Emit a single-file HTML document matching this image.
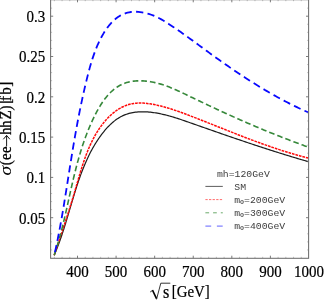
<!DOCTYPE html>
<html>
<head>
<meta charset="utf-8">
<title>plot</title>
<style>
html,body{margin:0;padding:0;background:#ffffff;}
body{width:324px;height:300px;overflow:hidden;}
svg{display:block;will-change:transform;}
text{font-family:"Liberation Serif",serif;font-size:15px;fill:#000;}
.b text{stroke:#000;stroke-width:0.2px;}
.mono text{font-family:"Liberation Mono",monospace;font-size:9.8px;fill:#3c3c3c;}
</style>
</head>
<body>
<svg width="324" height="300" viewBox="0 0 324 300">
<rect x="0" y="0" width="324" height="300" fill="#ffffff"/>
<defs><clipPath id="c"><rect x="50.6" y="-0.3" width="258.0" height="258.6"/></clipPath></defs>
<g clip-path="url(#c)" fill="none" stroke-linecap="butt" stroke-linejoin="round">
<path d="M54.20,255.20 L54.72,253.99 L55.24,252.78 L55.75,251.56 L56.25,250.33 L56.75,249.10 L57.24,247.87 L57.72,246.62 L58.20,245.37 L58.67,244.12 L59.13,242.86 L59.59,241.59 L60.04,240.33 L60.49,239.05 L60.93,237.77 L61.37,236.49 L61.80,235.20 L62.23,233.91 L62.66,232.62 L63.08,231.32 L63.50,230.01 L63.92,228.71 L64.33,227.40 L64.74,226.09 L65.14,224.77 L65.55,223.45 L65.95,222.13 L66.35,220.81 L66.75,219.49 L67.14,218.16 L67.54,216.83 L67.93,215.50 L68.33,214.17 L68.72,212.84 L69.11,211.50 L69.50,210.17 L69.90,208.83 L70.29,207.50 L70.68,206.16 L71.08,204.82 L71.47,203.48 L71.87,202.15 L72.27,200.81 L72.67,199.47 L73.07,198.14 L73.47,196.80 L73.88,195.47 L74.29,194.13 L74.70,192.80 L75.11,191.47 L75.53,190.14 L75.95,188.81 L76.38,187.49 L76.81,186.17 L77.24,184.84 L77.68,183.53 L78.12,182.21 L78.57,180.90 L79.02,179.58 L79.48,178.28 L79.94,176.97 L80.41,175.67 L80.88,174.38 L81.37,173.08 L81.85,171.79 L82.35,170.51 L82.85,169.23 L83.36,167.95 L83.87,166.68 L84.40,165.41 L84.93,164.15 L85.47,162.89 L86.02,161.64 L86.57,160.39 L87.14,159.15 L87.71,157.92 L88.29,156.69 L88.89,155.47 L89.49,154.25 L90.10,153.04 L90.72,151.84 L91.36,150.64 L92.00,149.45 L92.65,148.27 L93.32,147.10 L94.00,145.93 L94.68,144.77 L95.38,143.62 L96.10,142.48 L96.82,141.34 L97.56,140.21 L98.30,139.10 L99.07,137.99 L99.84,136.89 L100.63,135.79 L101.43,134.71 L102.25,133.64 L103.07,132.58 L103.92,131.53 L104.78,130.49 L105.65,129.47 L106.54,128.46 L107.44,127.47 L108.36,126.50 L109.29,125.55 L110.24,124.62 L111.21,123.72 L112.19,122.83 L113.19,121.98 L114.20,121.15 L115.23,120.35 L116.28,119.58 L117.35,118.84 L118.43,118.13 L119.53,117.46 L120.65,116.82 L121.79,116.22 L122.95,115.66 L124.13,115.13 L125.32,114.65 L126.53,114.21 L127.77,113.81 L129.01,113.45 L130.28,113.13 L131.56,112.84 L132.85,112.59 L134.15,112.38 L135.47,112.20 L136.80,112.06 L138.14,111.94 L139.48,111.86 L140.83,111.81 L142.19,111.79 L143.56,111.79 L144.93,111.83 L146.30,111.89 L147.67,111.97 L149.05,112.08 L150.42,112.21 L151.80,112.37 L153.17,112.54 L154.54,112.74 L155.91,112.95 L157.27,113.19 L158.63,113.44 L160.00,113.71 L161.35,113.99 L162.71,114.29 L164.07,114.61 L165.42,114.94 L166.77,115.28 L168.12,115.64 L169.46,116.01 L170.81,116.39 L172.15,116.78 L173.49,117.18 L174.83,117.59 L176.16,118.01 L177.50,118.43 L178.83,118.87 L180.16,119.30 L181.49,119.75 L182.81,120.20 L184.14,120.65 L185.46,121.11 L186.78,121.57 L188.10,122.03 L189.41,122.49 L190.73,122.95 L192.04,123.41 L193.35,123.87 L194.66,124.33 L195.96,124.79 L197.27,125.25 L198.57,125.71 L199.87,126.16 L201.17,126.62 L202.47,127.08 L203.77,127.53 L205.06,127.98 L206.35,128.44 L207.65,128.89 L208.94,129.34 L210.23,129.79 L211.52,130.24 L212.80,130.69 L214.09,131.14 L215.38,131.59 L216.66,132.03 L217.94,132.48 L219.23,132.92 L220.51,133.37 L221.79,133.81 L223.07,134.26 L224.35,134.70 L225.63,135.14 L226.90,135.58 L228.18,136.02 L229.46,136.46 L230.74,136.90 L232.01,137.33 L233.29,137.77 L234.56,138.21 L235.84,138.64 L237.12,139.07 L238.39,139.51 L239.67,139.94 L240.94,140.37 L242.22,140.80 L243.49,141.23 L244.77,141.66 L246.04,142.09 L247.32,142.52 L248.60,142.95 L249.87,143.37 L251.15,143.80 L252.43,144.22 L253.70,144.65 L254.98,145.07 L256.26,145.49 L257.54,145.91 L258.82,146.33 L260.10,146.75 L261.38,147.17 L262.67,147.59 L263.95,148.01 L265.24,148.42 L266.52,148.84 L267.81,149.25 L269.10,149.67 L270.38,150.08 L271.67,150.49 L272.97,150.90 L274.26,151.31 L275.55,151.72 L276.85,152.13 L278.15,152.54 L279.44,152.95 L280.74,153.35 L282.05,153.76 L283.35,154.17 L284.65,154.57 L285.96,154.97 L287.27,155.38 L288.58,155.78 L289.89,156.18 L291.21,156.58 L292.52,156.98 L293.84,157.37 L295.16,157.77 L296.49,158.17 L297.81,158.56 L299.14,158.96 L300.47,159.35 L301.80,159.75 L303.14,160.14 L304.47,160.53 L305.81,160.92 L307.16,161.31 L308.50,161.70" stroke="#1c1c1c" stroke-width="1.2"/>
<path d="M54.20,255.20 L54.65,253.83 L55.11,252.47 L55.56,251.12 L56.02,249.76 L56.47,248.41 L56.92,247.06 L57.37,245.72 L57.82,244.37 L58.27,243.03 L58.72,241.70 L59.16,240.36 L59.61,239.03 L60.05,237.70 L60.50,236.37 L60.94,235.04 L61.38,233.72 L61.82,232.39 L62.26,231.07 L62.70,229.75 L63.14,228.43 L63.58,227.11 L64.01,225.79 L64.45,224.47 L64.88,223.16 L65.31,221.84 L65.74,220.52 L66.17,219.20 L66.60,217.88 L67.03,216.57 L67.45,215.25 L67.87,213.93 L68.30,212.61 L68.72,211.29 L69.14,209.96 L69.55,208.64 L69.97,207.31 L70.38,205.99 L70.80,204.66 L71.21,203.33 L71.62,201.99 L72.03,200.66 L72.43,199.32 L72.84,197.98 L73.24,196.64 L73.64,195.29 L74.04,193.94 L74.44,192.59 L74.83,191.23 L75.23,189.88 L75.62,188.52 L76.01,187.15 L76.41,185.79 L76.80,184.42 L77.19,183.05 L77.59,181.68 L77.98,180.31 L78.38,178.94 L78.78,177.57 L79.18,176.20 L79.59,174.83 L80.00,173.46 L80.41,172.09 L80.82,170.72 L81.25,169.36 L81.67,168.00 L82.10,166.63 L82.54,165.28 L82.98,163.92 L83.43,162.57 L83.89,161.22 L84.35,159.87 L84.82,158.53 L85.30,157.19 L85.79,155.86 L86.29,154.53 L86.80,153.21 L87.31,151.90 L87.84,150.59 L88.38,149.28 L88.92,147.98 L89.48,146.69 L90.05,145.41 L90.63,144.13 L91.23,142.86 L91.84,141.60 L92.46,140.35 L93.09,139.11 L93.74,137.87 L94.40,136.65 L95.08,135.43 L95.78,134.23 L96.48,133.03 L97.21,131.85 L97.95,130.67 L98.71,129.51 L99.48,128.36 L100.28,127.22 L101.09,126.09 L101.92,124.97 L102.76,123.87 L103.63,122.78 L104.52,121.71 L105.42,120.65 L106.34,119.61 L107.28,118.58 L108.25,117.58 L109.22,116.60 L110.22,115.64 L111.24,114.71 L112.27,113.80 L113.32,112.92 L114.39,112.07 L115.48,111.25 L116.59,110.46 L117.71,109.70 L118.85,108.98 L120.01,108.29 L121.19,107.64 L122.38,107.02 L123.59,106.45 L124.81,105.92 L126.05,105.43 L127.30,104.98 L128.56,104.58 L129.84,104.22 L131.12,103.91 L132.42,103.65 L133.73,103.44 L135.05,103.28 L136.38,103.15 L137.71,103.07 L139.06,103.02 L140.40,103.02 L141.76,103.05 L143.12,103.11 L144.49,103.20 L145.86,103.32 L147.23,103.47 L148.60,103.65 L149.98,103.85 L151.36,104.06 L152.74,104.30 L154.11,104.56 L155.49,104.83 L156.87,105.13 L158.24,105.43 L159.62,105.76 L160.99,106.09 L162.37,106.45 L163.74,106.81 L165.11,107.19 L166.48,107.58 L167.85,107.99 L169.22,108.40 L170.59,108.83 L171.96,109.26 L173.32,109.71 L174.69,110.17 L176.05,110.63 L177.41,111.10 L178.77,111.58 L180.12,112.06 L181.48,112.55 L182.83,113.05 L184.19,113.54 L185.54,114.05 L186.88,114.56 L188.23,115.07 L189.57,115.58 L190.91,116.09 L192.25,116.61 L193.58,117.12 L194.92,117.64 L196.25,118.16 L197.58,118.67 L198.90,119.19 L200.23,119.71 L201.55,120.23 L202.87,120.75 L204.19,121.27 L205.51,121.79 L206.82,122.31 L208.14,122.83 L209.45,123.35 L210.76,123.87 L212.07,124.39 L213.38,124.91 L214.68,125.43 L215.99,125.95 L217.29,126.47 L218.60,126.99 L219.90,127.50 L221.20,128.02 L222.50,128.54 L223.80,129.06 L225.10,129.57 L226.40,130.09 L227.69,130.60 L228.99,131.12 L230.29,131.63 L231.58,132.14 L232.88,132.65 L234.17,133.16 L235.47,133.67 L236.76,134.18 L238.06,134.68 L239.35,135.19 L240.65,135.69 L241.95,136.19 L243.24,136.69 L244.54,137.19 L245.83,137.69 L247.13,138.19 L248.43,138.68 L249.73,139.17 L251.02,139.66 L252.32,140.15 L253.62,140.64 L254.93,141.12 L256.23,141.60 L257.53,142.08 L258.83,142.56 L260.14,143.03 L261.45,143.51 L262.75,143.98 L264.06,144.45 L265.37,144.91 L266.69,145.37 L268.00,145.83 L269.32,146.29 L270.63,146.75 L271.95,147.20 L273.27,147.65 L274.60,148.09 L275.92,148.54 L277.25,148.98 L278.58,149.41 L279.91,149.85 L281.24,150.28 L282.58,150.70 L283.92,151.13 L285.26,151.55 L286.60,151.96 L287.95,152.38 L289.29,152.79 L290.65,153.19 L292.00,153.59 L293.36,153.99 L294.72,154.39 L296.08,154.78 L297.45,155.16 L298.82,155.54 L300.19,155.92 L301.57,156.30 L302.95,156.67 L304.33,157.03 L305.72,157.39 L307.11,157.75 L308.50,158.10" stroke="#ff0a0a" stroke-width="1.5" stroke-dasharray="2.7 0.9"/>
<path d="M54.20,255.20 L54.68,253.75 L55.16,252.31 L55.63,250.86 L56.09,249.41 L56.54,247.96 L56.98,246.51 L57.42,245.06 L57.85,243.61 L58.28,242.16 L58.69,240.71 L59.10,239.26 L59.51,237.81 L59.91,236.35 L60.30,234.90 L60.69,233.44 L61.07,231.99 L61.45,230.54 L61.82,229.08 L62.19,227.63 L62.55,226.17 L62.91,224.71 L63.27,223.26 L63.62,221.80 L63.97,220.35 L64.32,218.89 L64.66,217.43 L65.00,215.98 L65.33,214.52 L65.67,213.06 L66.00,211.61 L66.33,210.15 L66.66,208.70 L66.99,207.24 L67.31,205.78 L67.64,204.33 L67.96,202.87 L68.28,201.42 L68.61,199.96 L68.93,198.51 L69.25,197.05 L69.57,195.60 L69.90,194.14 L70.22,192.69 L70.54,191.24 L70.87,189.78 L71.20,188.33 L71.53,186.88 L71.86,185.43 L72.19,183.98 L72.52,182.53 L72.86,181.08 L73.20,179.63 L73.54,178.18 L73.89,176.73 L74.24,175.29 L74.59,173.84 L74.95,172.39 L75.31,170.95 L75.67,169.51 L76.04,168.06 L76.41,166.62 L76.79,165.18 L77.17,163.74 L77.56,162.30 L77.96,160.86 L78.36,159.42 L78.76,157.99 L79.17,156.55 L79.59,155.12 L80.02,153.69 L80.45,152.25 L80.89,150.82 L81.33,149.39 L81.79,147.97 L82.25,146.54 L82.72,145.11 L83.19,143.69 L83.68,142.27 L84.17,140.85 L84.68,139.43 L85.19,138.01 L85.71,136.59 L86.24,135.17 L86.78,133.76 L87.33,132.35 L87.89,130.93 L88.46,129.53 L89.04,128.12 L89.63,126.71 L90.24,125.31 L90.85,123.90 L91.47,122.50 L92.11,121.10 L92.76,119.70 L93.42,118.31 L94.09,116.92 L94.78,115.53 L95.48,114.15 L96.19,112.77 L96.92,111.40 L97.67,110.05 L98.42,108.70 L99.20,107.37 L99.99,106.06 L100.80,104.76 L101.63,103.48 L102.47,102.22 L103.33,100.98 L104.21,99.77 L105.11,98.58 L106.04,97.41 L106.98,96.27 L107.94,95.16 L108.92,94.08 L109.93,93.04 L110.96,92.02 L112.01,91.04 L113.09,90.10 L114.19,89.20 L115.31,88.34 L116.46,87.51 L117.64,86.73 L118.84,86.00 L120.06,85.31 L121.32,84.67 L122.60,84.07 L123.91,83.53 L125.25,83.04 L126.62,82.60 L128.01,82.22 L129.43,81.88 L130.87,81.59 L132.33,81.35 L133.80,81.16 L135.29,81.01 L136.79,80.91 L138.30,80.85 L139.82,80.83 L141.35,80.84 L142.88,80.90 L144.41,81.00 L145.93,81.13 L147.46,81.29 L148.98,81.49 L150.48,81.72 L151.98,81.99 L153.47,82.28 L154.96,82.60 L156.43,82.95 L157.89,83.32 L159.35,83.72 L160.80,84.14 L162.24,84.59 L163.67,85.05 L165.10,85.54 L166.52,86.05 L167.93,86.57 L169.34,87.12 L170.75,87.67 L172.14,88.25 L173.54,88.83 L174.93,89.43 L176.31,90.04 L177.69,90.66 L179.07,91.29 L180.45,91.93 L181.82,92.57 L183.19,93.22 L184.56,93.87 L185.92,94.53 L187.29,95.19 L188.65,95.85 L190.01,96.51 L191.38,97.17 L192.74,97.83 L194.10,98.48 L195.46,99.14 L196.82,99.79 L198.18,100.44 L199.54,101.09 L200.90,101.74 L202.26,102.39 L203.62,103.03 L204.98,103.68 L206.34,104.32 L207.70,104.96 L209.06,105.61 L210.42,106.24 L211.78,106.88 L213.14,107.52 L214.49,108.15 L215.85,108.78 L217.21,109.42 L218.57,110.05 L219.93,110.67 L221.29,111.30 L222.65,111.93 L224.01,112.55 L225.37,113.17 L226.73,113.79 L228.09,114.41 L229.45,115.03 L230.82,115.64 L232.18,116.26 L233.54,116.87 L234.90,117.48 L236.27,118.09 L237.63,118.69 L239.00,119.30 L240.36,119.90 L241.73,120.51 L243.09,121.11 L244.46,121.70 L245.83,122.30 L247.19,122.90 L248.56,123.49 L249.93,124.08 L251.30,124.67 L252.68,125.26 L254.05,125.84 L255.42,126.43 L256.79,127.01 L258.17,127.59 L259.54,128.17 L260.92,128.74 L262.30,129.32 L263.68,129.89 L265.06,130.46 L266.44,131.03 L267.82,131.60 L269.20,132.16 L270.59,132.73 L271.97,133.29 L273.36,133.85 L274.75,134.40 L276.14,134.96 L277.53,135.51 L278.92,136.06 L280.31,136.61 L281.71,137.16 L283.10,137.70 L284.50,138.25 L285.90,138.79 L287.30,139.33 L288.70,139.86 L290.10,140.40 L291.51,140.93 L292.91,141.46 L294.32,141.99 L295.73,142.52 L297.14,143.04 L298.56,143.56 L299.97,144.08 L301.39,144.60 L302.81,145.11 L304.23,145.63 L305.65,146.14 L307.07,146.64 L308.50,147.15" stroke="#36883a" stroke-width="1.6" stroke-dasharray="5.67 2.985"/>
<path d="M54.20,255.40 L54.60,253.66 L54.99,251.91 L55.38,250.16 L55.77,248.41 L56.15,246.65 L56.52,244.88 L56.89,243.11 L57.26,241.34 L57.62,239.57 L57.98,237.79 L58.33,236.01 L58.68,234.22 L59.02,232.43 L59.36,230.64 L59.70,228.85 L60.04,227.05 L60.37,225.25 L60.70,223.45 L61.02,221.65 L61.34,219.84 L61.66,218.04 L61.98,216.23 L62.29,214.42 L62.60,212.61 L62.91,210.80 L63.21,208.99 L63.52,207.17 L63.82,205.36 L64.12,203.55 L64.41,201.73 L64.71,199.92 L65.00,198.10 L65.30,196.29 L65.59,194.48 L65.88,192.66 L66.16,190.85 L66.45,189.04 L66.74,187.23 L67.02,185.42 L67.31,183.61 L67.59,181.81 L67.87,180.00 L68.16,178.20 L68.44,176.40 L68.72,174.60 L69.01,172.81 L69.29,171.02 L69.57,169.23 L69.85,167.44 L70.14,165.65 L70.42,163.87 L70.70,162.09 L70.99,160.31 L71.28,158.54 L71.56,156.76 L71.85,154.99 L72.14,153.22 L72.43,151.45 L72.72,149.69 L73.02,147.92 L73.31,146.16 L73.61,144.39 L73.91,142.63 L74.21,140.87 L74.51,139.11 L74.82,137.35 L75.12,135.59 L75.43,133.83 L75.75,132.07 L76.06,130.32 L76.38,128.56 L76.70,126.80 L77.02,125.04 L77.35,123.28 L77.68,121.52 L78.02,119.76 L78.35,118.00 L78.69,116.24 L79.04,114.47 L79.39,112.71 L79.74,110.94 L80.10,109.17 L80.46,107.40 L80.82,105.63 L81.19,103.86 L81.57,102.09 L81.94,100.31 L82.33,98.53 L82.72,96.75 L83.11,94.97 L83.51,93.18 L83.91,91.39 L84.32,89.60 L84.73,87.81 L85.15,86.01 L85.58,84.21 L86.01,82.40 L86.45,80.60 L86.89,78.78 L87.34,76.97 L87.80,75.15 L88.26,73.34 L88.74,71.52 L89.23,69.71 L89.72,67.89 L90.23,66.08 L90.76,64.28 L91.29,62.47 L91.84,60.68 L92.41,58.89 L93.00,57.11 L93.60,55.34 L94.22,53.58 L94.86,51.83 L95.52,50.10 L96.20,48.37 L96.90,46.66 L97.63,44.97 L98.38,43.29 L99.15,41.63 L99.95,39.98 L100.78,38.36 L101.63,36.76 L102.51,35.17 L103.43,33.61 L104.37,32.07 L105.34,30.56 L106.35,29.08 L107.38,27.64 L108.46,26.23 L109.56,24.86 L110.70,23.54 L111.88,22.27 L113.10,21.05 L114.35,19.89 L115.65,18.79 L116.98,17.75 L118.35,16.79 L119.77,15.89 L121.23,15.08 L122.73,14.34 L124.28,13.69 L125.87,13.13 L127.51,12.66 L129.20,12.28 L130.93,12.01 L132.71,11.83 L134.53,11.76 L136.38,11.77 L138.25,11.88 L140.13,12.06 L142.02,12.33 L143.90,12.68 L145.77,13.09 L147.63,13.58 L149.45,14.13 L151.24,14.73 L152.99,15.40 L154.71,16.11 L156.40,16.87 L158.06,17.68 L159.69,18.52 L161.30,19.40 L162.88,20.31 L164.45,21.24 L166.01,22.20 L167.55,23.18 L169.08,24.17 L170.60,25.17 L172.12,26.17 L173.63,27.19 L175.13,28.21 L176.64,29.23 L178.14,30.26 L179.63,31.30 L181.12,32.34 L182.61,33.39 L184.09,34.44 L185.57,35.50 L187.05,36.56 L188.52,37.62 L189.99,38.68 L191.46,39.75 L192.93,40.82 L194.40,41.89 L195.87,42.96 L197.33,44.04 L198.80,45.11 L200.26,46.19 L201.73,47.26 L203.19,48.34 L204.65,49.41 L206.12,50.49 L207.59,51.56 L209.05,52.63 L210.52,53.70 L211.99,54.77 L213.47,55.83 L214.94,56.89 L216.42,57.95 L217.90,59.01 L219.38,60.07 L220.86,61.12 L222.34,62.17 L223.83,63.21 L225.32,64.26 L226.81,65.30 L228.30,66.33 L229.80,67.37 L231.29,68.40 L232.79,69.42 L234.30,70.45 L235.80,71.47 L237.31,72.48 L238.82,73.49 L240.33,74.50 L241.84,75.50 L243.36,76.50 L244.88,77.49 L246.41,78.48 L247.93,79.47 L249.46,80.45 L250.99,81.42 L252.53,82.40 L254.06,83.36 L255.61,84.32 L257.15,85.28 L258.70,86.23 L260.25,87.17 L261.80,88.11 L263.36,89.04 L264.92,89.97 L266.48,90.89 L268.05,91.81 L269.62,92.72 L271.20,93.63 L272.77,94.52 L274.36,95.41 L275.94,96.30 L277.53,97.18 L279.12,98.05 L280.72,98.92 L282.32,99.77 L283.93,100.63 L285.53,101.47 L287.15,102.31 L288.76,103.14 L290.38,103.96 L292.01,104.78 L293.64,105.58 L295.27,106.38 L296.91,107.18 L298.55,107.96 L300.20,108.74 L301.85,109.51 L303.51,110.27 L305.17,111.02 L306.83,111.76 L308.50,112.50" stroke="#0808ff" stroke-width="1.8" stroke-dasharray="7.25 4.32" stroke-dashoffset="8.3"/>
</g>
<g stroke="#9a9a9a" stroke-width="0.6" fill="none">
<line x1="54.35" y1="258.30" x2="54.35" y2="256.80"/>
<line x1="54.35" y1="-0.30" x2="54.35" y2="1.20"/>
<line x1="62.07" y1="258.30" x2="62.07" y2="256.80"/>
<line x1="62.07" y1="-0.30" x2="62.07" y2="1.20"/>
<line x1="69.78" y1="258.30" x2="69.78" y2="256.80"/>
<line x1="69.78" y1="-0.30" x2="69.78" y2="1.20"/>
<line x1="77.50" y1="258.30" x2="77.50" y2="255.70" stroke="#5a5a5a" stroke-width="0.8"/>
<line x1="77.50" y1="-0.30" x2="77.50" y2="2.30" stroke="#5a5a5a" stroke-width="0.8"/>
<line x1="85.22" y1="258.30" x2="85.22" y2="256.80"/>
<line x1="85.22" y1="-0.30" x2="85.22" y2="1.20"/>
<line x1="92.93" y1="258.30" x2="92.93" y2="256.80"/>
<line x1="92.93" y1="-0.30" x2="92.93" y2="1.20"/>
<line x1="100.65" y1="258.30" x2="100.65" y2="256.80"/>
<line x1="100.65" y1="-0.30" x2="100.65" y2="1.20"/>
<line x1="108.36" y1="258.30" x2="108.36" y2="256.80"/>
<line x1="108.36" y1="-0.30" x2="108.36" y2="1.20"/>
<line x1="116.08" y1="258.30" x2="116.08" y2="255.70" stroke="#5a5a5a" stroke-width="0.8"/>
<line x1="116.08" y1="-0.30" x2="116.08" y2="2.30" stroke="#5a5a5a" stroke-width="0.8"/>
<line x1="123.80" y1="258.30" x2="123.80" y2="256.80"/>
<line x1="123.80" y1="-0.30" x2="123.80" y2="1.20"/>
<line x1="131.51" y1="258.30" x2="131.51" y2="256.80"/>
<line x1="131.51" y1="-0.30" x2="131.51" y2="1.20"/>
<line x1="139.23" y1="258.30" x2="139.23" y2="256.80"/>
<line x1="139.23" y1="-0.30" x2="139.23" y2="1.20"/>
<line x1="146.94" y1="258.30" x2="146.94" y2="256.80"/>
<line x1="146.94" y1="-0.30" x2="146.94" y2="1.20"/>
<line x1="154.66" y1="258.30" x2="154.66" y2="255.70" stroke="#5a5a5a" stroke-width="0.8"/>
<line x1="154.66" y1="-0.30" x2="154.66" y2="2.30" stroke="#5a5a5a" stroke-width="0.8"/>
<line x1="162.38" y1="258.30" x2="162.38" y2="256.80"/>
<line x1="162.38" y1="-0.30" x2="162.38" y2="1.20"/>
<line x1="170.09" y1="258.30" x2="170.09" y2="256.80"/>
<line x1="170.09" y1="-0.30" x2="170.09" y2="1.20"/>
<line x1="177.81" y1="258.30" x2="177.81" y2="256.80"/>
<line x1="177.81" y1="-0.30" x2="177.81" y2="1.20"/>
<line x1="185.52" y1="258.30" x2="185.52" y2="256.80"/>
<line x1="185.52" y1="-0.30" x2="185.52" y2="1.20"/>
<line x1="193.24" y1="258.30" x2="193.24" y2="255.70" stroke="#5a5a5a" stroke-width="0.8"/>
<line x1="193.24" y1="-0.30" x2="193.24" y2="2.30" stroke="#5a5a5a" stroke-width="0.8"/>
<line x1="200.96" y1="258.30" x2="200.96" y2="256.80"/>
<line x1="200.96" y1="-0.30" x2="200.96" y2="1.20"/>
<line x1="208.67" y1="258.30" x2="208.67" y2="256.80"/>
<line x1="208.67" y1="-0.30" x2="208.67" y2="1.20"/>
<line x1="216.39" y1="258.30" x2="216.39" y2="256.80"/>
<line x1="216.39" y1="-0.30" x2="216.39" y2="1.20"/>
<line x1="224.10" y1="258.30" x2="224.10" y2="256.80"/>
<line x1="224.10" y1="-0.30" x2="224.10" y2="1.20"/>
<line x1="231.82" y1="258.30" x2="231.82" y2="255.70" stroke="#5a5a5a" stroke-width="0.8"/>
<line x1="231.82" y1="-0.30" x2="231.82" y2="2.30" stroke="#5a5a5a" stroke-width="0.8"/>
<line x1="239.54" y1="258.30" x2="239.54" y2="256.80"/>
<line x1="239.54" y1="-0.30" x2="239.54" y2="1.20"/>
<line x1="247.25" y1="258.30" x2="247.25" y2="256.80"/>
<line x1="247.25" y1="-0.30" x2="247.25" y2="1.20"/>
<line x1="254.97" y1="258.30" x2="254.97" y2="256.80"/>
<line x1="254.97" y1="-0.30" x2="254.97" y2="1.20"/>
<line x1="262.68" y1="258.30" x2="262.68" y2="256.80"/>
<line x1="262.68" y1="-0.30" x2="262.68" y2="1.20"/>
<line x1="270.40" y1="258.30" x2="270.40" y2="255.70" stroke="#5a5a5a" stroke-width="0.8"/>
<line x1="270.40" y1="-0.30" x2="270.40" y2="2.30" stroke="#5a5a5a" stroke-width="0.8"/>
<line x1="278.12" y1="258.30" x2="278.12" y2="256.80"/>
<line x1="278.12" y1="-0.30" x2="278.12" y2="1.20"/>
<line x1="285.83" y1="258.30" x2="285.83" y2="256.80"/>
<line x1="285.83" y1="-0.30" x2="285.83" y2="1.20"/>
<line x1="293.55" y1="258.30" x2="293.55" y2="256.80"/>
<line x1="293.55" y1="-0.30" x2="293.55" y2="1.20"/>
<line x1="301.26" y1="258.30" x2="301.26" y2="256.80"/>
<line x1="301.26" y1="-0.30" x2="301.26" y2="1.20"/>
<line x1="50.60" y1="249.94" x2="52.10" y2="249.94"/>
<line x1="308.60" y1="249.94" x2="307.10" y2="249.94"/>
<line x1="50.60" y1="241.88" x2="52.10" y2="241.88"/>
<line x1="308.60" y1="241.88" x2="307.10" y2="241.88"/>
<line x1="50.60" y1="233.82" x2="52.10" y2="233.82"/>
<line x1="308.60" y1="233.82" x2="307.10" y2="233.82"/>
<line x1="50.60" y1="225.76" x2="52.10" y2="225.76"/>
<line x1="308.60" y1="225.76" x2="307.10" y2="225.76"/>
<line x1="50.60" y1="217.70" x2="53.20" y2="217.70" stroke="#5a5a5a" stroke-width="0.8"/>
<line x1="308.60" y1="217.70" x2="306.00" y2="217.70" stroke="#5a5a5a" stroke-width="0.8"/>
<line x1="50.60" y1="209.64" x2="52.10" y2="209.64"/>
<line x1="308.60" y1="209.64" x2="307.10" y2="209.64"/>
<line x1="50.60" y1="201.58" x2="52.10" y2="201.58"/>
<line x1="308.60" y1="201.58" x2="307.10" y2="201.58"/>
<line x1="50.60" y1="193.52" x2="52.10" y2="193.52"/>
<line x1="308.60" y1="193.52" x2="307.10" y2="193.52"/>
<line x1="50.60" y1="185.46" x2="52.10" y2="185.46"/>
<line x1="308.60" y1="185.46" x2="307.10" y2="185.46"/>
<line x1="50.60" y1="177.40" x2="53.20" y2="177.40" stroke="#5a5a5a" stroke-width="0.8"/>
<line x1="308.60" y1="177.40" x2="306.00" y2="177.40" stroke="#5a5a5a" stroke-width="0.8"/>
<line x1="50.60" y1="169.34" x2="52.10" y2="169.34"/>
<line x1="308.60" y1="169.34" x2="307.10" y2="169.34"/>
<line x1="50.60" y1="161.28" x2="52.10" y2="161.28"/>
<line x1="308.60" y1="161.28" x2="307.10" y2="161.28"/>
<line x1="50.60" y1="153.22" x2="52.10" y2="153.22"/>
<line x1="308.60" y1="153.22" x2="307.10" y2="153.22"/>
<line x1="50.60" y1="145.16" x2="52.10" y2="145.16"/>
<line x1="308.60" y1="145.16" x2="307.10" y2="145.16"/>
<line x1="50.60" y1="137.10" x2="53.20" y2="137.10" stroke="#5a5a5a" stroke-width="0.8"/>
<line x1="308.60" y1="137.10" x2="306.00" y2="137.10" stroke="#5a5a5a" stroke-width="0.8"/>
<line x1="50.60" y1="129.04" x2="52.10" y2="129.04"/>
<line x1="308.60" y1="129.04" x2="307.10" y2="129.04"/>
<line x1="50.60" y1="120.98" x2="52.10" y2="120.98"/>
<line x1="308.60" y1="120.98" x2="307.10" y2="120.98"/>
<line x1="50.60" y1="112.92" x2="52.10" y2="112.92"/>
<line x1="308.60" y1="112.92" x2="307.10" y2="112.92"/>
<line x1="50.60" y1="104.86" x2="52.10" y2="104.86"/>
<line x1="308.60" y1="104.86" x2="307.10" y2="104.86"/>
<line x1="50.60" y1="96.80" x2="53.20" y2="96.80" stroke="#5a5a5a" stroke-width="0.8"/>
<line x1="308.60" y1="96.80" x2="306.00" y2="96.80" stroke="#5a5a5a" stroke-width="0.8"/>
<line x1="50.60" y1="88.74" x2="52.10" y2="88.74"/>
<line x1="308.60" y1="88.74" x2="307.10" y2="88.74"/>
<line x1="50.60" y1="80.68" x2="52.10" y2="80.68"/>
<line x1="308.60" y1="80.68" x2="307.10" y2="80.68"/>
<line x1="50.60" y1="72.62" x2="52.10" y2="72.62"/>
<line x1="308.60" y1="72.62" x2="307.10" y2="72.62"/>
<line x1="50.60" y1="64.56" x2="52.10" y2="64.56"/>
<line x1="308.60" y1="64.56" x2="307.10" y2="64.56"/>
<line x1="50.60" y1="56.50" x2="53.20" y2="56.50" stroke="#5a5a5a" stroke-width="0.8"/>
<line x1="308.60" y1="56.50" x2="306.00" y2="56.50" stroke="#5a5a5a" stroke-width="0.8"/>
<line x1="50.60" y1="48.44" x2="52.10" y2="48.44"/>
<line x1="308.60" y1="48.44" x2="307.10" y2="48.44"/>
<line x1="50.60" y1="40.38" x2="52.10" y2="40.38"/>
<line x1="308.60" y1="40.38" x2="307.10" y2="40.38"/>
<line x1="50.60" y1="32.32" x2="52.10" y2="32.32"/>
<line x1="308.60" y1="32.32" x2="307.10" y2="32.32"/>
<line x1="50.60" y1="24.26" x2="52.10" y2="24.26"/>
<line x1="308.60" y1="24.26" x2="307.10" y2="24.26"/>
<line x1="50.60" y1="16.20" x2="53.20" y2="16.20" stroke="#5a5a5a" stroke-width="0.8"/>
<line x1="308.60" y1="16.20" x2="306.00" y2="16.20" stroke="#5a5a5a" stroke-width="0.8"/>
<line x1="50.60" y1="8.14" x2="52.10" y2="8.14"/>
<line x1="308.60" y1="8.14" x2="307.10" y2="8.14"/>
</g>
<rect x="50.6" y="-0.3" width="258.0" height="258.6" stroke="#6e6e6e" stroke-width="1.05" fill="none"/>
<g class="b">
<text transform="translate(77.50,276.9) scale(1,1.06)" text-anchor="middle" font-size="16">400</text>
<text transform="translate(116.08,276.9) scale(1,1.06)" text-anchor="middle" font-size="16">500</text>
<text transform="translate(154.66,276.9) scale(1,1.06)" text-anchor="middle" font-size="16">600</text>
<text transform="translate(193.24,276.9) scale(1,1.06)" text-anchor="middle" font-size="16">700</text>
<text transform="translate(231.82,276.9) scale(1,1.06)" text-anchor="middle" font-size="16">800</text>
<text transform="translate(270.40,276.9) scale(1,1.06)" text-anchor="middle" font-size="16">900</text>
<text transform="translate(308.98,276.9) scale(1,1.06)" text-anchor="middle" font-size="16">1000</text>
<text transform="translate(45.2,223.60) scale(1,1.06)" text-anchor="end" font-size="16">0.05</text>
<text transform="translate(45.2,183.30) scale(1,1.06)" text-anchor="end" font-size="16">0.1</text>
<text transform="translate(45.2,143.00) scale(1,1.06)" text-anchor="end" font-size="16">0.15</text>
<text transform="translate(45.2,102.70) scale(1,1.06)" text-anchor="end" font-size="16">0.2</text>
<text transform="translate(45.2,62.40) scale(1,1.06)" text-anchor="end" font-size="16">0.25</text>
<text transform="translate(45.2,22.10) scale(1,1.06)" text-anchor="end" font-size="16">0.3</text>
</g>
<!-- x axis label -->
<g class="b">
<g fill="none" stroke="#000" stroke-linejoin="miter" stroke-linecap="butt">
<path d="M150.2,292.0 L152.7,290.3" stroke-width="0.8"/>
<path d="M152.5,290.2 L156.5,298.6" stroke-width="1.6"/>
<path d="M156.5,299.4 L160.8,283.2 L170.3,283.2" stroke-width="0.8"/>
</g>
<text transform="translate(163.1,297.6) scale(1.08,1.2)">s</text>
<text transform="translate(171.8,297.0) scale(0.99,1.1)">[GeV]</text>
</g>
<!-- y axis label -->
<g transform="translate(10.7,176) rotate(-90) scale(1,1.14)" stroke="#000" stroke-width="0.25">
<text transform="translate(0.4,0) scale(1.3,1)" font-style="italic" font-size="16" stroke="none">σ</text>
<text y="0" x="10.8 16.1 22.9">(ee</text>
<text y="0" x="40.9 48.0 56.4 65.6 72.2">hhZ)[</text>
<text y="0" x="74.9 81.3" font-size="16.5">fb</text>
<text y="0" x="89.2">]</text>
</g>
<path d="M6.6,146.2 L6.6,135.6 M3.3,139.3 L6.6,135.4 L9.9,139.3" fill="none" stroke="#000" stroke-width="0.9"/>
<!-- legend -->
<g class="mono">
<text x="216.9" y="177.2">mh=120GeV</text>
<text x="234.3" y="189.6">SM</text>
<text x="234.3" y="202.6">m<tspan font-size="6px" dy="1.5">Φ</tspan><tspan dy="-1.5" dx="0.3">=200GeV</tspan></text>
<text x="234.3" y="215.7">m<tspan font-size="6px" dy="1.5">Φ</tspan><tspan dy="-1.5" dx="0.3">=300GeV</tspan></text>
<text x="234.3" y="228.9">m<tspan font-size="6px" dy="1.5">Φ</tspan><tspan dy="-1.5" dx="0.3">=400GeV</tspan></text>
</g>
<g fill="none" stroke-linecap="butt">
<line x1="205.4" y1="186.4" x2="222.8" y2="186.4" stroke="#333" stroke-width="0.8"/>
<line x1="205.4" y1="199.6" x2="222.8" y2="199.6" stroke="#ff4646" stroke-width="0.8" stroke-dasharray="2.3 1.3"/>
<line x1="205.4" y1="212.8" x2="222.8" y2="212.8" stroke="#5aa05a" stroke-width="0.9" stroke-dasharray="3.7 4"/>
<line x1="205.4" y1="226.1" x2="222.8" y2="226.1" stroke="#5050ff" stroke-width="0.9" stroke-dasharray="5.8 5.7"/>
</g>
</svg>
</body>
</html>
